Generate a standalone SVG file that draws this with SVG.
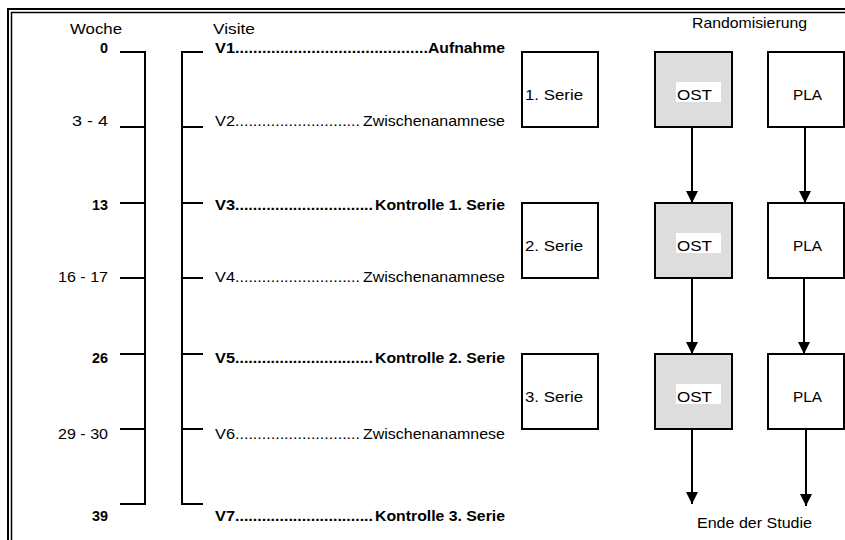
<svg xmlns="http://www.w3.org/2000/svg" width="845" height="540" viewBox="0 0 845 540">
<defs>
<style>
text{font-family:"Liberation Sans",Arial,sans-serif;font-size:14.5px;fill:#000}
.b{font-weight:bold}
.ln{stroke:#000;stroke-width:2;fill:none}
.box{stroke:#000;stroke-width:2;fill:#fff}
.ost{stroke:#000;stroke-width:2;fill:#dddddd}
.frame{stroke:#000;fill:none}
</style>
<marker id="ah" markerUnits="userSpaceOnUse" markerWidth="12" markerHeight="12" refX="10" refY="5" orient="auto" viewBox="0 0 10 10">
<path d="M0,0 L10,5 L0,10 Z" fill="#000"/>
</marker>
</defs>
<rect width="845" height="540" fill="#fff"/>
<g id="frame">
<path class="frame" stroke-width="2" d="M8,540 V9 H845"/>
<path class="frame" stroke-width="1.5" d="M11.5,540 V12.5 H845"/>
</g>
<g id="headers">
<text x="70" y="34" textLength="52" lengthAdjust="spacingAndGlyphs">Woche</text>
<text x="213" y="34" textLength="42" lengthAdjust="spacingAndGlyphs">Visite</text>
<text x="692" y="28" textLength="115" lengthAdjust="spacingAndGlyphs">Randomisierung</text>
</g>
<g id="weeks">
<path class="ln" d="M120,52 H145 V504 H120 M120,127 H145 M120,203 H145 M120,278 H145 M120,354 H145 M120,429 H145"/>
<text class="b" x="100" y="53" textLength="8" lengthAdjust="spacingAndGlyphs">0</text>
<text x="72" y="126" textLength="36" lengthAdjust="spacingAndGlyphs">3 - 4</text>
<text class="b" x="92" y="210" textLength="16" lengthAdjust="spacingAndGlyphs">13</text>
<text x="58" y="282" textLength="50" lengthAdjust="spacingAndGlyphs">16 - 17</text>
<text class="b" x="92" y="363" textLength="16" lengthAdjust="spacingAndGlyphs">26</text>
<text x="58" y="439" textLength="50" lengthAdjust="spacingAndGlyphs">29 - 30</text>
<text class="b" x="92" y="521" textLength="16" lengthAdjust="spacingAndGlyphs">39</text>
</g>
<g id="visits">
<path class="ln" d="M203,52 H182 V504 H203 M182,127 H203 M182,203 H203 M182,278 H203 M182,354 H203 M182,429 H203"/>
<g id="v1">
<text class="b" x="215" y="53" textLength="20" lengthAdjust="spacingAndGlyphs">V1</text>
<text class="b" x="235" y="53" textLength="193" lengthAdjust="spacingAndGlyphs">...........................................</text>
<text class="b" x="428" y="53" textLength="77" lengthAdjust="spacingAndGlyphs">Aufnahme</text>
</g>
<g id="v2">
<text x="215" y="126" textLength="20" lengthAdjust="spacingAndGlyphs">V2</text>
<text x="235" y="126" textLength="125" lengthAdjust="spacingAndGlyphs">............................</text>
<text x="363" y="126" textLength="142" lengthAdjust="spacingAndGlyphs">Zwischenanamnese</text>
</g>
<g id="v3">
<text class="b" x="215" y="210" textLength="20" lengthAdjust="spacingAndGlyphs">V3</text>
<text class="b" x="235" y="210" textLength="138" lengthAdjust="spacingAndGlyphs">...............................</text>
<text class="b" x="375" y="210" textLength="130" lengthAdjust="spacingAndGlyphs">Kontrolle 1. Serie</text>
</g>
<g id="v4">
<text x="215" y="282" textLength="20" lengthAdjust="spacingAndGlyphs">V4</text>
<text x="235" y="282" textLength="125" lengthAdjust="spacingAndGlyphs">............................</text>
<text x="363" y="282" textLength="142" lengthAdjust="spacingAndGlyphs">Zwischenanamnese</text>
</g>
<g id="v5">
<text class="b" x="215" y="363" textLength="20" lengthAdjust="spacingAndGlyphs">V5</text>
<text class="b" x="235" y="363" textLength="138" lengthAdjust="spacingAndGlyphs">...............................</text>
<text class="b" x="375" y="363" textLength="130" lengthAdjust="spacingAndGlyphs">Kontrolle 2. Serie</text>
</g>
<g id="v6">
<text x="215" y="439" textLength="20" lengthAdjust="spacingAndGlyphs">V6</text>
<text x="235" y="439" textLength="125" lengthAdjust="spacingAndGlyphs">............................</text>
<text x="363" y="439" textLength="142" lengthAdjust="spacingAndGlyphs">Zwischenanamnese</text>
</g>
<g id="v7">
<text class="b" x="215" y="521" textLength="20" lengthAdjust="spacingAndGlyphs">V7</text>
<text class="b" x="235" y="521" textLength="138" lengthAdjust="spacingAndGlyphs">...............................</text>
<text class="b" x="375" y="521" textLength="130" lengthAdjust="spacingAndGlyphs">Kontrolle 3. Serie</text>
</g>
</g>
<g id="serie1"><rect class="box" x="522" y="52" width="76" height="75"/><text x="525" y="100" textLength="58" lengthAdjust="spacingAndGlyphs">1. Serie</text></g>
<g id="serie2"><rect class="box" x="522" y="203" width="76" height="75"/><text x="525" y="251" textLength="58" lengthAdjust="spacingAndGlyphs">2. Serie</text></g>
<g id="serie3"><rect class="box" x="522" y="354" width="76" height="75"/><text x="525" y="402" textLength="58" lengthAdjust="spacingAndGlyphs">3. Serie</text></g>
<g id="ost1"><rect class="ost" x="655" y="52" width="77" height="75"/><rect x="676" y="82" width="45" height="20" fill="#fff"/><text x="677" y="100" textLength="35" lengthAdjust="spacingAndGlyphs">OST</text></g>
<g id="ost2"><rect class="ost" x="655" y="203" width="77" height="75"/><rect x="676" y="233" width="45" height="20" fill="#fff"/><text x="677" y="251" textLength="35" lengthAdjust="spacingAndGlyphs">OST</text></g>
<g id="ost3"><rect class="ost" x="655" y="354" width="77" height="75"/><rect x="676" y="384" width="45" height="20" fill="#fff"/><text x="677" y="402" textLength="35" lengthAdjust="spacingAndGlyphs">OST</text></g>
<g id="pla1"><rect class="box" x="768" y="52" width="76" height="75"/><text x="793" y="100" textLength="29" lengthAdjust="spacingAndGlyphs">PLA</text></g>
<g id="pla2"><rect class="box" x="768" y="203" width="76" height="75"/><text x="793" y="251" textLength="29" lengthAdjust="spacingAndGlyphs">PLA</text></g>
<g id="pla3"><rect class="box" x="768" y="354" width="76" height="75"/><text x="793" y="402" textLength="29" lengthAdjust="spacingAndGlyphs">PLA</text></g>
<g id="connectors">
<line class="ln" x1="692" y1="127" x2="692" y2="203" marker-end="url(#ah)"/>
<line class="ln" x1="805" y1="127" x2="805" y2="203" marker-end="url(#ah)"/>
<line class="ln" x1="692" y1="278" x2="692" y2="354" marker-end="url(#ah)"/>
<line class="ln" x1="804" y1="278" x2="804" y2="354" marker-end="url(#ah)"/>
<line class="ln" x1="692" y1="429" x2="692" y2="504" marker-end="url(#ah)"/>
<line class="ln" x1="806" y1="429" x2="806" y2="506" marker-end="url(#ah)"/>
</g>
<g id="end"><text x="697" y="528" textLength="115" lengthAdjust="spacingAndGlyphs">Ende der Studie</text></g>
</svg>
